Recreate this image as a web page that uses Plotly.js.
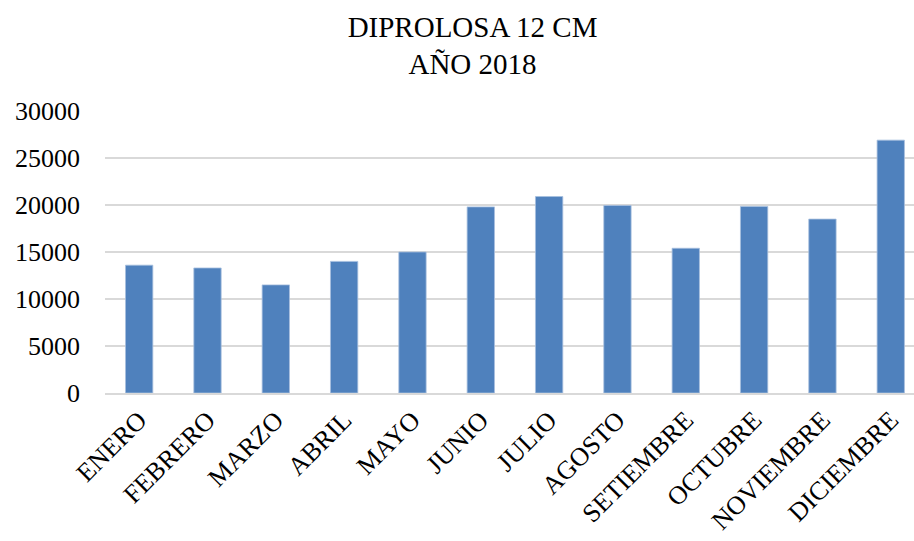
<!DOCTYPE html>
<html>
<head>
<meta charset="utf-8">
<script src="https://cdn.plot.ly/plotly-3.0.1.min.js"></script>
<style>html,body{margin:0;padding:0;background:#fff;}#chart{width:914px;height:541px;}</style>
</head>
<body>
<div id="chart"></div>
<script>
const months = ["ENERO","FEBRERO","MARZO","ABRIL","MAYO","JUNIO","JULIO","AGOSTO","SETIEMBRE","OCTUBRE","NOVIEMBRE","DICIEMBRE"];
const values = [13600, 13300, 11500, 14000, 15000, 19800, 20900, 19950, 15400, 19850, 18500, 26900];
const yTicks = [0, 5000, 10000, 15000, 20000, 25000, 30000];

const font = "'Liberation Serif', 'Times New Roman', serif";

Plotly.newPlot("chart", [{
  type: "bar",
  x: months,
  y: values,
  marker: {color: "#4f81bd", line: {color: "#a7bfde", width: 0.8}},
  hoverinfo: "x+y"
}], {
  width: 914,
  height: 541,
  margin: {l: 105, r: 0, t: 111, b: 148},
  paper_bgcolor: "#fff",
  plot_bgcolor: "#fff",
  bargap: 0.6,
  showlegend: false,
  title: {
    text: "DIPROLOSA 12 CM<br>AÑO 2018",
    font: {family: font, size: 29, color: "#000"},
    x: 0.517, xanchor: "center",
    y: 0.932, yanchor: "top"
  },
  xaxis: {
    type: "category",
    range: [-0.5, 11.34],
    tickangle: -45,
    tickfont: {family: font, size: 26, color: "#000"},
    showgrid: false,
    showline: true,
    linecolor: "#d9d9d9",
    linewidth: 1.5,
    ticks: "",
    fixedrange: true
  },
  yaxis: {
    range: [0, 30000],
    tickvals: yTicks,
    ticktext: yTicks.map(String),
    tickfont: {family: font, size: 26, color: "#000"},
    showgrid: true,
    gridcolor: "#d9d9d9",
    gridwidth: 1.5,
    zeroline: false,
    showline: false,
    ticks: "",
    ticklabelstandoff: 24,
    fixedrange: true
  }
}, {displayModeBar: false, staticPlot: true});
</script>
</body>
</html>
